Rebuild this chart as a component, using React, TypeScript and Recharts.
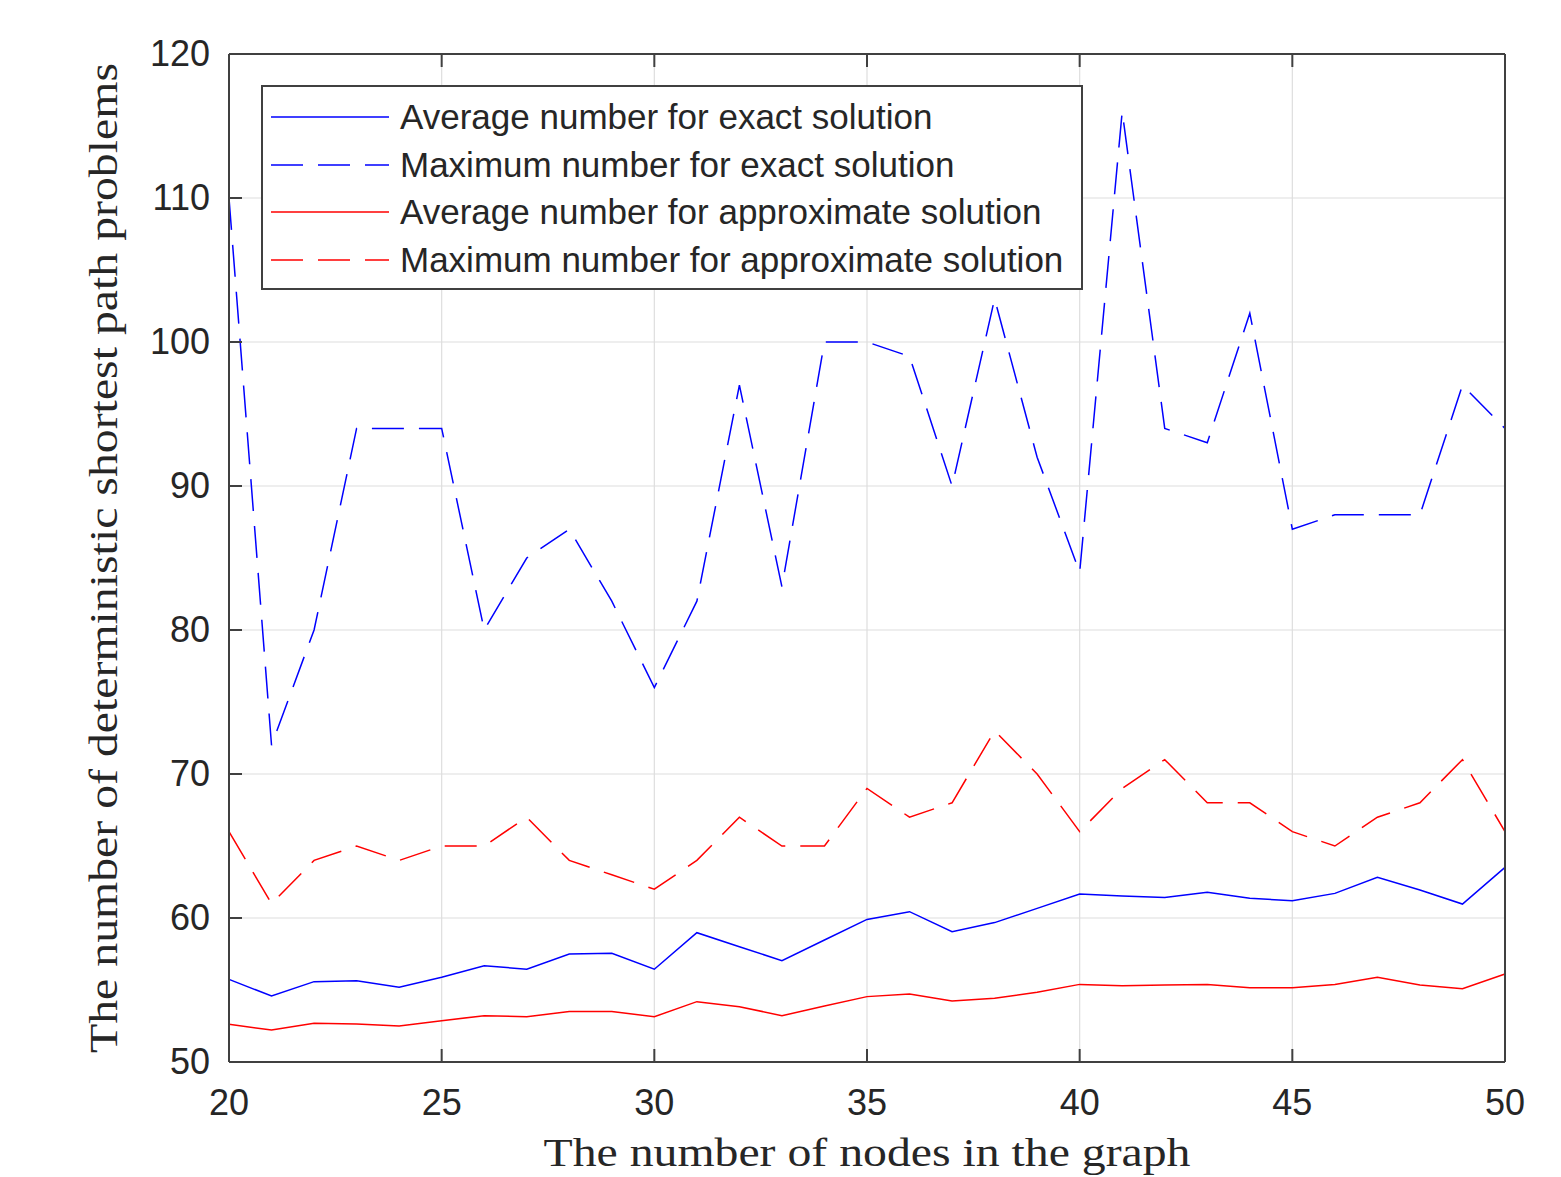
import React from 'react';
import { LineChart, Line, XAxis, YAxis, CartesianGrid, Legend } from 'recharts';

const nodes = [20,21,22,23,24,25,26,27,28,29,30,31,32,33,34,35,36,37,38,39,40,41,42,43,44,45,46,47,48,49,50];
const avgExact = [55.74,54.58,55.58,55.65,55.19,55.88,56.69,56.44,57.5,57.55,56.44,58.98,58.0,57.04,58.47,59.9,60.44,59.05,59.68,60.67,61.67,61.53,61.43,61.78,61.37,61.2,61.71,62.82,61.94,60.97,63.52];
const maxExact = [110,72,80,94,94,94,80,85,87,82,76,82,97,83,100,100,99,90,103,92,84,116,94,93,102,87,88,88,88,97,94];
const avgApprox = [52.62,52.22,52.69,52.64,52.5,52.87,53.22,53.15,53.5,53.5,53.15,54.19,53.84,53.22,53.89,54.54,54.72,54.24,54.42,54.84,55.39,55.3,55.35,55.39,55.16,55.16,55.39,55.88,55.35,55.09,56.11];
const maxApprox = [66,61,64,65,64,65,65,67,64,63,62,64,67,65,65,69,67,68,73,70,66,69,71,68,68,66,65,67,68,71,66];

const xTicks = [20,25,30,35,40,45,50];
const yTicks = [50,60,70,80,90,100,110,120];

const seriesNames = [
  'Average number for exact solution',
  'Maximum number for exact solution',
  'Average number for approximate solution',
  'Maximum number for approximate solution',
];

const data = nodes.map((n, i) => ({
  n,
  avgExact: avgExact[i],
  maxExact: maxExact[i],
  avgApprox: avgApprox[i],
  maxApprox: maxApprox[i],
}));

const AXIS = '#404040';
const TXT = '#262626';
const SANS = 'Arial, "Liberation Sans", sans-serif';
const SERIF = '"Liberation Serif", "Times New Roman", serif';
const DASH = '32 15';

const BottomTick = (props: any) => {
  const { x, y, payload } = props;
  return (
    <g>
      <line x1={x} y1={y} x2={x} y2={y - 13} stroke={AXIS} strokeWidth={2} />
      <text x={x} y={y + 53} textAnchor="middle" fontFamily={SANS} fontSize={36} fill={TXT}>{payload.value}</text>
    </g>
  );
};
const TopTick = (props: any) => {
  const { x, y } = props;
  return <line x1={x} y1={y} x2={x} y2={y + 13} stroke={AXIS} strokeWidth={2} />;
};
const LeftTick = (props: any) => {
  const { x, y, payload } = props;
  return (
    <g>
      <line x1={x} y1={y} x2={x + 13} y2={y} stroke={AXIS} strokeWidth={2} />
      <text x={x - 19} y={y + 12} textAnchor="end" fontFamily={SANS} fontSize={36} fill={TXT}>{payload.value}</text>
    </g>
  );
};
const RightTick = (props: any) => {
  const { x, y } = props;
  return <line x1={x} y1={y} x2={x - 13} y2={y} stroke={AXIS} strokeWidth={2} />;
};

const legendItems = [
  { name: seriesNames[0], color: '#0000ff', dash: undefined },
  { name: seriesNames[1], color: '#0000ff', dash: DASH },
  { name: seriesNames[2], color: '#ff0000', dash: undefined },
  { name: seriesNames[3], color: '#ff0000', dash: DASH },
];

const LegendBox = () => (
  <div style={{ width: 818, height: 201, border: `2px solid ${AXIS}`, background: '#fff', position: 'relative', boxSizing: 'content-box' }}>
    {legendItems.map((it, i) => (
      <div key={i} style={{ position: 'absolute', left: 0, top: 30 + i * 47.7 - 24, height: 48, display: 'flex', alignItems: 'center' }}>
        <svg width={137} height={48} style={{ display: 'block' }}>
          <line x1={8} y1={24} x2={126} y2={24} stroke={it.color} strokeWidth={1.5} strokeDasharray={it.dash} />
        </svg>
        <span style={{ fontFamily: SANS, fontSize: 35, color: TXT, whiteSpace: 'nowrap', lineHeight: '48px' }}>{it.name}</span>
      </div>
    ))}
  </div>
);

const XLabel = (props: any) => {
  const vb = props.viewBox || { x: 221, width: 1276 };
  const cx = vb.x + vb.width / 2;
  return (
    <text x={cx} y={1166 - 8} textAnchor="middle" fontFamily={SERIF} fontSize={40} fill={TXT} textLength={647} lengthAdjust="spacingAndGlyphs">
      The number of nodes in the graph
    </text>
  );
};
const YLabel = (props: any) => {
  const vb = props.viewBox || { y: 46, height: 1008 };
  const cy = vb.y + vb.height / 2;
  const bx = 117 - 8;
  return (
    <text x={bx} y={cy} transform={`rotate(-90 ${bx} ${cy})`} textAnchor="middle" fontFamily={SERIF} fontSize={40} fill={TXT} textLength={990} lengthAdjust="spacingAndGlyphs">
      The number of deterministic shortest path problems
    </text>
  );
};

export default function App() {
  return (
    <div style={{ width: 1545, height: 1169, background: '#fff' }}>
      <LineChart width={1545} height={1169} data={data} margin={{ top: 45, right: 47, bottom: 114, left: 220 }}>
        <CartesianGrid stroke="#dedede" strokeWidth={1.2} />
        <XAxis xAxisId={0} dataKey="n" type="number" domain={[20, 50]} ticks={xTicks} interval={0} height={1} tickSize={0} tickMargin={0}
          axisLine={{ stroke: AXIS, strokeWidth: 2 }} tickLine={false} tick={<BottomTick />} label={<XLabel />} />
        <XAxis xAxisId="top" orientation="top" dataKey="n" type="number" domain={[20, 50]} ticks={xTicks} interval={0} height={1} tickSize={0} tickMargin={0}
          axisLine={{ stroke: AXIS, strokeWidth: 2 }} tickLine={false} tick={<TopTick />} />
        <YAxis yAxisId={0} type="number" domain={[50, 120]} ticks={yTicks} interval={0} width={1} tickSize={0} tickMargin={0}
          axisLine={{ stroke: AXIS, strokeWidth: 2 }} tickLine={false} tick={<LeftTick />} label={<YLabel />} />
        <YAxis yAxisId="right" orientation="right" type="number" domain={[50, 120]} ticks={yTicks} interval={0} width={1} tickSize={0} tickMargin={0}
          axisLine={{ stroke: AXIS, strokeWidth: 2 }} tickLine={false} tick={<RightTick />} />
        <Legend layout="horizontal" verticalAlign="middle" align="center" content={<LegendBox />}
          wrapperStyle={{ position: 'absolute', left: 253, top: 77, width: 822, height: 205 }} />
        <Line type="linear" dataKey="avgExact" name={seriesNames[0]} stroke="#0000ff" strokeWidth={1.5} dot={false} isAnimationActive={false} />
        <Line type="linear" dataKey="maxExact" name={seriesNames[1]} stroke="#0000ff" strokeWidth={1.5} strokeDasharray={DASH} dot={false} isAnimationActive={false} />
        <Line type="linear" dataKey="avgApprox" name={seriesNames[2]} stroke="#ff0000" strokeWidth={1.5} dot={false} isAnimationActive={false} />
        <Line type="linear" dataKey="maxApprox" name={seriesNames[3]} stroke="#ff0000" strokeWidth={1.5} strokeDasharray={DASH} dot={false} isAnimationActive={false} />
      </LineChart>
    </div>
  );
}
